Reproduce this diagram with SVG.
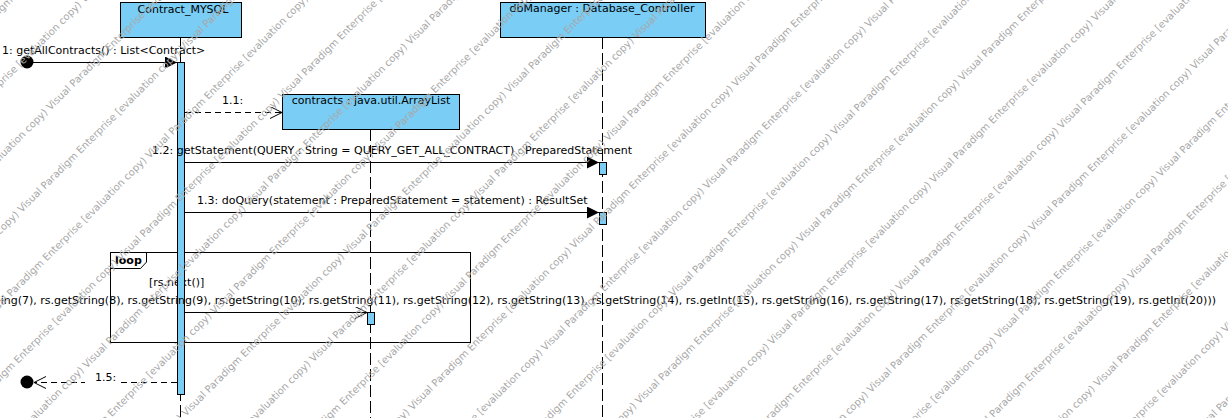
<svg xmlns="http://www.w3.org/2000/svg" width="1228" height="418" viewBox="0 0 1228 418">
<style>
.lbl{font-family:"DejaVu Sans","Liberation Sans",sans-serif;font-size:11px;fill:#000}
.bold{font-weight:bold}
.box{fill:#7ACDF4;stroke:#000;stroke-width:1}
.life{stroke:#000;stroke-width:1;stroke-dasharray:12 4;fill:none}
.msg{stroke:#000;stroke-width:1;fill:none}
.ret{stroke:#000;stroke-width:1;fill:none;stroke-dasharray:6 4}
.wm{font-family:"DejaVu Sans","Liberation Sans",sans-serif;font-size:10px;fill:#a8a8a8}
</style>
<defs>
<marker id="filled" markerUnits="userSpaceOnUse" markerWidth="13" markerHeight="13" refX="12" refY="6" orient="auto">
<path d="M0,0 L12,6 L0,12 z" fill="#000"/>
</marker>
<marker id="open" markerUnits="userSpaceOnUse" markerWidth="14" markerHeight="14" refX="12" refY="6" orient="auto">
<path d="M0,0 L12,6 L0,12" fill="none" stroke="#000" stroke-width="1"/>
</marker>
</defs>
<rect x="0" y="0" width="1228" height="418" fill="#fff"/>

<g id="lifelines">
<line class="life" x1="180.5" y1="37" x2="180.5" y2="418"/>
<line class="life" x1="370.5" y1="129" x2="370.5" y2="418"/>
<line class="life" x1="602.5" y1="37" x2="602.5" y2="418"/>
</g>

<g id="node-contract-mysql">
<rect class="box" x="120.5" y="2.5" width="121" height="35"/>
<text class="lbl" x="183" y="13" text-anchor="middle">Contract_MYSQL</text>
</g>

<g id="node-contracts">
<rect class="box" x="282.5" y="94.5" width="177" height="35"/>
<text class="lbl" x="371" y="104" text-anchor="middle">contracts : java.util.ArrayList</text>
</g>

<g id="node-dbmanager">
<rect class="box" x="500.5" y="2.5" width="205" height="35"/>
<text class="lbl" x="602" y="12" text-anchor="middle">dbManager : Database_Controller</text>
</g>

<g id="loop-frame">
<rect x="110.5" y="252.5" width="360" height="90" fill="none" stroke="#000" stroke-width="1"/>
<path d="M110.5,252.5 H146.5 V262 L140.5,268.5 H110.5" fill="none" stroke="#000" stroke-width="1"/>
<text class="lbl bold" x="115" y="264">loop</text>
<text class="lbl" x="149" y="286">[rs.next()]</text>
</g>

<g id="activations">
<rect class="box" x="177.5" y="62.5" width="7" height="332"/>
<rect class="box" x="599.5" y="162.5" width="7" height="12"/>
<rect class="box" x="599.5" y="212.5" width="7" height="12"/>
<rect class="box" x="367.5" y="312.5" width="7" height="12"/>
</g>

<g id="connectors">
<circle cx="27" cy="62" r="6.5" fill="#000"/>
<line class="msg" x1="33" y1="62.5" x2="177" y2="62.5" marker-end="url(#filled)"/>
<text class="lbl" x="2" y="54">1: getAllContracts() : List&lt;Contract&gt;</text>

<line class="ret" x1="185" y1="112.5" x2="282" y2="112.5" marker-end="url(#open)"/>
<text class="lbl" x="222" y="104">1.1:</text>

<line class="msg" x1="185" y1="162.5" x2="599" y2="162.5" marker-end="url(#filled)"/>
<text class="lbl" x="152" y="154">1.2: getStatement(QUERY : String = QUERY_GET_ALL_CONTRACT) : PreparedStatement</text>

<line class="msg" x1="185" y1="212.5" x2="599" y2="212.5" marker-end="url(#filled)"/>
<text class="lbl" x="197" y="204">1.3: doQuery(statement : PreparedStatement = statement) : ResultSet</text>

<line class="msg" x1="185" y1="312.5" x2="367" y2="312.5" marker-end="url(#open)"/>
<text class="lbl" x="1216" y="304" text-anchor="end">ing(7), rs.getString(8), rs.getString(9), rs.getString(10), rs.getString(11), rs.getString(12), rs.getString(13), rs.getString(14), rs.getInt(15), rs.getString(16), rs.getString(17), rs.getString(18), rs.getString(19), rs.getInt(20)))</text>

<line class="ret" x1="177" y1="382.5" x2="34" y2="382.5" marker-end="url(#open)"/>
<circle cx="27" cy="382" r="6.5" fill="#000"/>
<rect x="85" y="371" width="32" height="12" fill="#fff"/>
<text class="lbl" x="95" y="381">1.5:</text>
</g>

<g id="watermark" transform="rotate(-45)">
<text class="wm" x="-300" y="10">Visual Paradigm Enterprise [evaluation copy)    Visual Paradigm Enterprise [evaluation copy)    Visual Paradigm Enterprise [evaluation copy)    Visual Paradigm Enterprise [evaluation copy)    Visual Paradigm Enterprise [evaluation copy)    Visual Paradigm Enterprise [evaluation copy)</text>
<text class="wm" x="-400" y="62">Visual Paradigm Enterprise [evaluation copy)    Visual Paradigm Enterprise [evaluation copy)    Visual Paradigm Enterprise [evaluation copy)    Visual Paradigm Enterprise [evaluation copy)    Visual Paradigm Enterprise [evaluation copy)    Visual Paradigm Enterprise [evaluation copy)</text>
<text class="wm" x="-500" y="114">Visual Paradigm Enterprise [evaluation copy)    Visual Paradigm Enterprise [evaluation copy)    Visual Paradigm Enterprise [evaluation copy)    Visual Paradigm Enterprise [evaluation copy)    Visual Paradigm Enterprise [evaluation copy)    Visual Paradigm Enterprise [evaluation copy)</text>
<text class="wm" x="-364" y="166">Visual Paradigm Enterprise [evaluation copy)    Visual Paradigm Enterprise [evaluation copy)    Visual Paradigm Enterprise [evaluation copy)    Visual Paradigm Enterprise [evaluation copy)    Visual Paradigm Enterprise [evaluation copy)    Visual Paradigm Enterprise [evaluation copy)</text>
<text class="wm" x="-464" y="218">Visual Paradigm Enterprise [evaluation copy)    Visual Paradigm Enterprise [evaluation copy)    Visual Paradigm Enterprise [evaluation copy)    Visual Paradigm Enterprise [evaluation copy)    Visual Paradigm Enterprise [evaluation copy)    Visual Paradigm Enterprise [evaluation copy)</text>
<text class="wm" x="-328" y="270">Visual Paradigm Enterprise [evaluation copy)    Visual Paradigm Enterprise [evaluation copy)    Visual Paradigm Enterprise [evaluation copy)    Visual Paradigm Enterprise [evaluation copy)    Visual Paradigm Enterprise [evaluation copy)    Visual Paradigm Enterprise [evaluation copy)</text>
<text class="wm" x="-428" y="322">Visual Paradigm Enterprise [evaluation copy)    Visual Paradigm Enterprise [evaluation copy)    Visual Paradigm Enterprise [evaluation copy)    Visual Paradigm Enterprise [evaluation copy)    Visual Paradigm Enterprise [evaluation copy)    Visual Paradigm Enterprise [evaluation copy)</text>
<text class="wm" x="-528" y="374">Visual Paradigm Enterprise [evaluation copy)    Visual Paradigm Enterprise [evaluation copy)    Visual Paradigm Enterprise [evaluation copy)    Visual Paradigm Enterprise [evaluation copy)    Visual Paradigm Enterprise [evaluation copy)    Visual Paradigm Enterprise [evaluation copy)</text>
<text class="wm" x="-392" y="426">Visual Paradigm Enterprise [evaluation copy)    Visual Paradigm Enterprise [evaluation copy)    Visual Paradigm Enterprise [evaluation copy)    Visual Paradigm Enterprise [evaluation copy)    Visual Paradigm Enterprise [evaluation copy)    Visual Paradigm Enterprise [evaluation copy)</text>
<text class="wm" x="-492" y="478">Visual Paradigm Enterprise [evaluation copy)    Visual Paradigm Enterprise [evaluation copy)    Visual Paradigm Enterprise [evaluation copy)    Visual Paradigm Enterprise [evaluation copy)    Visual Paradigm Enterprise [evaluation copy)    Visual Paradigm Enterprise [evaluation copy)</text>
<text class="wm" x="-356" y="530">Visual Paradigm Enterprise [evaluation copy)    Visual Paradigm Enterprise [evaluation copy)    Visual Paradigm Enterprise [evaluation copy)    Visual Paradigm Enterprise [evaluation copy)    Visual Paradigm Enterprise [evaluation copy)    Visual Paradigm Enterprise [evaluation copy)</text>
<text class="wm" x="-456" y="582">Visual Paradigm Enterprise [evaluation copy)    Visual Paradigm Enterprise [evaluation copy)    Visual Paradigm Enterprise [evaluation copy)    Visual Paradigm Enterprise [evaluation copy)    Visual Paradigm Enterprise [evaluation copy)    Visual Paradigm Enterprise [evaluation copy)</text>
<text class="wm" x="-320" y="634">Visual Paradigm Enterprise [evaluation copy)    Visual Paradigm Enterprise [evaluation copy)    Visual Paradigm Enterprise [evaluation copy)    Visual Paradigm Enterprise [evaluation copy)    Visual Paradigm Enterprise [evaluation copy)    Visual Paradigm Enterprise [evaluation copy)</text>
<text class="wm" x="-420" y="686">Visual Paradigm Enterprise [evaluation copy)    Visual Paradigm Enterprise [evaluation copy)    Visual Paradigm Enterprise [evaluation copy)    Visual Paradigm Enterprise [evaluation copy)    Visual Paradigm Enterprise [evaluation copy)    Visual Paradigm Enterprise [evaluation copy)</text>
<text class="wm" x="-520" y="738">Visual Paradigm Enterprise [evaluation copy)    Visual Paradigm Enterprise [evaluation copy)    Visual Paradigm Enterprise [evaluation copy)    Visual Paradigm Enterprise [evaluation copy)    Visual Paradigm Enterprise [evaluation copy)    Visual Paradigm Enterprise [evaluation copy)</text>
<text class="wm" x="-384" y="790">Visual Paradigm Enterprise [evaluation copy)    Visual Paradigm Enterprise [evaluation copy)    Visual Paradigm Enterprise [evaluation copy)    Visual Paradigm Enterprise [evaluation copy)    Visual Paradigm Enterprise [evaluation copy)    Visual Paradigm Enterprise [evaluation copy)</text>
<text class="wm" x="-484" y="842">Visual Paradigm Enterprise [evaluation copy)    Visual Paradigm Enterprise [evaluation copy)    Visual Paradigm Enterprise [evaluation copy)    Visual Paradigm Enterprise [evaluation copy)    Visual Paradigm Enterprise [evaluation copy)    Visual Paradigm Enterprise [evaluation copy)</text>
<text class="wm" x="-348" y="894">Visual Paradigm Enterprise [evaluation copy)    Visual Paradigm Enterprise [evaluation copy)    Visual Paradigm Enterprise [evaluation copy)    Visual Paradigm Enterprise [evaluation copy)    Visual Paradigm Enterprise [evaluation copy)    Visual Paradigm Enterprise [evaluation copy)</text>
<text class="wm" x="-448" y="946">Visual Paradigm Enterprise [evaluation copy)    Visual Paradigm Enterprise [evaluation copy)    Visual Paradigm Enterprise [evaluation copy)    Visual Paradigm Enterprise [evaluation copy)    Visual Paradigm Enterprise [evaluation copy)    Visual Paradigm Enterprise [evaluation copy)</text>
<text class="wm" x="-312" y="998">Visual Paradigm Enterprise [evaluation copy)    Visual Paradigm Enterprise [evaluation copy)    Visual Paradigm Enterprise [evaluation copy)    Visual Paradigm Enterprise [evaluation copy)    Visual Paradigm Enterprise [evaluation copy)    Visual Paradigm Enterprise [evaluation copy)</text>
<text class="wm" x="-412" y="1050">Visual Paradigm Enterprise [evaluation copy)    Visual Paradigm Enterprise [evaluation copy)    Visual Paradigm Enterprise [evaluation copy)    Visual Paradigm Enterprise [evaluation copy)    Visual Paradigm Enterprise [evaluation copy)    Visual Paradigm Enterprise [evaluation copy)</text>
<text class="wm" x="-512" y="1102">Visual Paradigm Enterprise [evaluation copy)    Visual Paradigm Enterprise [evaluation copy)    Visual Paradigm Enterprise [evaluation copy)    Visual Paradigm Enterprise [evaluation copy)    Visual Paradigm Enterprise [evaluation copy)    Visual Paradigm Enterprise [evaluation copy)</text>
<text class="wm" x="-376" y="1154">Visual Paradigm Enterprise [evaluation copy)    Visual Paradigm Enterprise [evaluation copy)    Visual Paradigm Enterprise [evaluation copy)    Visual Paradigm Enterprise [evaluation copy)    Visual Paradigm Enterprise [evaluation copy)    Visual Paradigm Enterprise [evaluation copy)</text>
</g>
</svg>
